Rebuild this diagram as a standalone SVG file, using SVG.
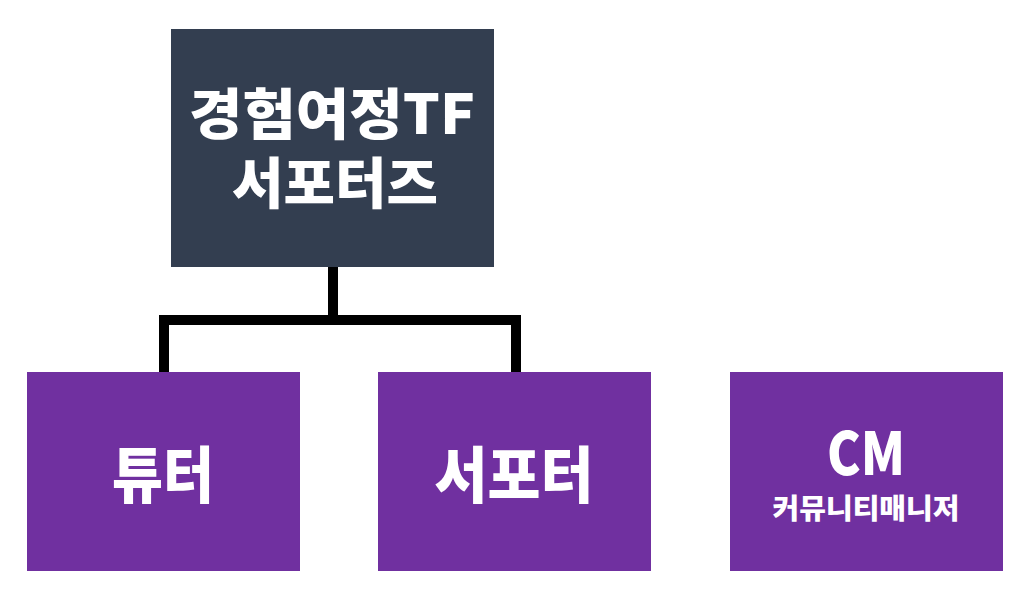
<svg xmlns="http://www.w3.org/2000/svg" width="1033" height="609" viewBox="0 0 1033 609">
<style>
.t{font-family:"Noto Sans CJK KR","Noto Sans",sans-serif;font-weight:900;fill:#ffffff;text-anchor:middle}
.p{fill:#7030a0}
.c{fill:none;stroke:#000;stroke-width:10;stroke-linejoin:miter}
</style>
<rect width="1033" height="609" fill="#ffffff"/>
<g id="connectors">
<path class="c" d="M333 267 V320"/>
<path class="c" d="M164 372 V320 H516 V372"/>
</g>
<g id="node-top">
<rect x="171" y="29" width="323" height="238" fill="#333e50"/>
<text class="t" x="332" y="134" font-size="55" textLength="286" lengthAdjust="spacingAndGlyphs">경험여정TF</text>
<text class="t" x="335" y="203" font-size="55" textLength="206" lengthAdjust="spacingAndGlyphs">서포터즈</text>
</g>
<g id="node-tutor">
<rect class="p" x="27" y="372" width="273" height="199"/>
<text class="t" x="163" y="498" font-size="61" textLength="102" lengthAdjust="spacingAndGlyphs">튜터</text>
</g>
<g id="node-supporter">
<rect class="p" x="378" y="372" width="273" height="199"/>
<text class="t" x="514" y="498" font-size="61" textLength="159" lengthAdjust="spacingAndGlyphs">서포터</text>
</g>
<g id="node-cm">
<rect class="p" x="730" y="372" width="273" height="199"/>
<text class="t" x="866" y="475" font-size="59" textLength="78" lengthAdjust="spacingAndGlyphs">CM</text>
<text class="t" x="866" y="519" font-size="28" textLength="187" lengthAdjust="spacingAndGlyphs">커뮤니티매니저</text>
</g>
</svg>
